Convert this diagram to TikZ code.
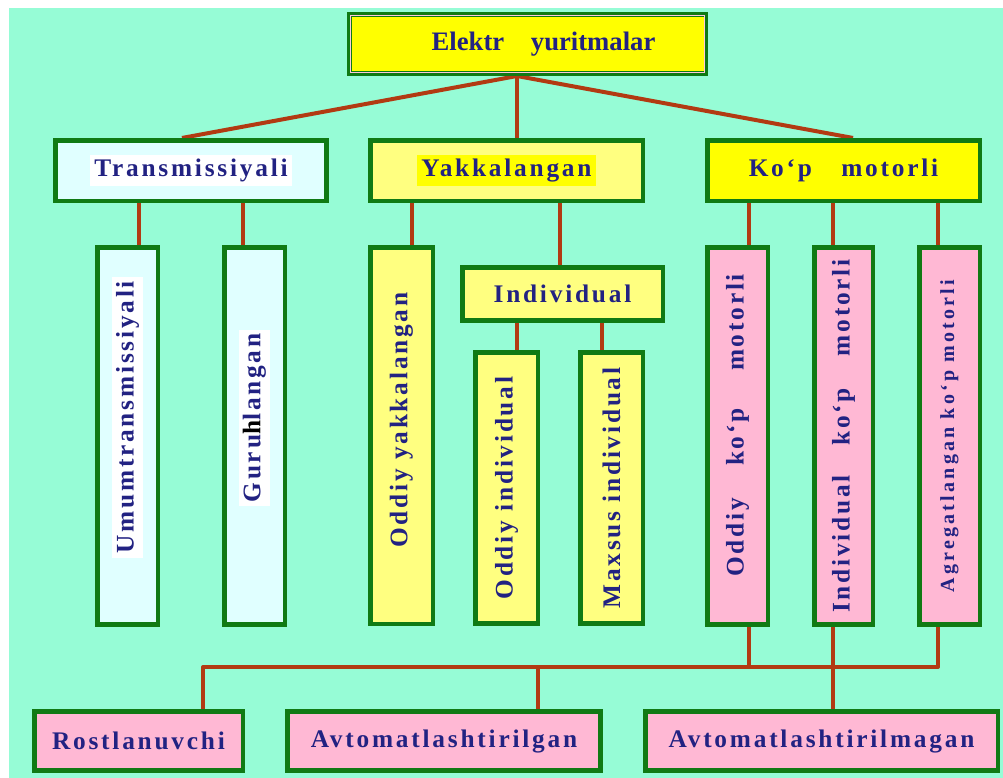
\documentclass[tikz,border=0pt]{standalone}
\usepackage{fontspec}
\usepackage{graphicx}
\setmainfont{Liberation Serif}
\newfontfamily\boxfont[LetterSpace=11]{Liberation Serif}
\newfontfamily\smallboxfont[LetterSpace=16]{Liberation Serif}
\usetikzlibrary{backgrounds}
\definecolor{mint}{RGB}{150,252,214}
\definecolor{boxgreen}{RGB}{16,122,20}
\definecolor{linkred}{RGB}{178,58,18}
\definecolor{yellowA}{RGB}{255,255,0}
\definecolor{yellowB}{RGB}{255,255,128}
\definecolor{cyanA}{RGB}{224,255,255}
\definecolor{pinkA}{RGB}{255,184,212}
\definecolor{pinkline}{RGB}{255,200,220}
\definecolor{txtblue}{RGB}{34,34,130}
\newcommand\uptext[1]{\rotatebox{90}{#1}}
\newcommand\hl[2]{{\setlength{\fboxsep}{3pt}\colorbox{#1}{#2}}}

\begin{document}
\begin{tikzpicture}[x=0.75pt,y=-0.75pt,
  box/.style={draw=boxgreen,line width=3.4pt,inner sep=0pt,text=txtblue,
    font=\boxfont\bfseries\fontsize{19}{22}\selectfont},
  hbox/.style={box,minimum height=45.4pt},
  vbox/.style={box,minimum width=45.4pt,minimum height=283.1pt},
  link/.style={draw=linkred,line width=3pt,line join=round}]
  \useasboundingbox (0,0) rectangle (1003,778);

  \node[box,fill=yellowA,minimum width=267.4pt,minimum height=44.6pt,
    font=\bfseries\fontsize{20}{24}\selectfont] (top) at (527.5,44)
    {\hspace*{24pt}Elektr\quad yuritmalar};
  \draw[pinkline,line width=1pt] ([shift={(2.6pt,-2.6pt)}]top.north west)
    rectangle ([shift={(-2.6pt,2.6pt)}]top.south east);

  \node[hbox,fill=cyanA,minimum width=203.6pt] (trans) at (191,170.5)
    {\hl{white}{Transmissiyali}};
  \node[hbox,fill=yellowB,minimum width=204.4pt] (yak) at (506.5,170.5)
    {\hl{yellowA}{Yakkalangan}};
  \node[hbox,fill=yellowA,minimum width=204.4pt] (kop) at (843.5,170.5)
    {Ko‘p\hspace{22pt}motorli};

  \node[vbox,fill=cyanA] (umum) at (127.5,436)
    {\uptext{\hspace*{28pt}\hl{white}{Umumtransmissiyali}}};
  \node[vbox,fill=cyanA] (guruh) at (254.5,436)
    {\uptext{\hspace*{27pt}\hl{white}{Guru{\color{black}h}langan}}};
  \node[vbox,fill=yellowB,minimum width=46.9pt,minimum height=282.4pt] (oddyak) at (401.5,435.5)
    {\uptext{\hspace*{23pt}Oddiy yakkalangan}};
  \node[box,fill=yellowB,minimum width=150.4pt,minimum height=40.1pt] (indiv) at (562.5,294)
    {Individual};
  \node[box,fill=yellowB,minimum width=46.9pt,minimum height=203.6pt] (oddind) at (506.5,488)
    {\uptext{Oddiy individual}};
  \node[box,fill=yellowB,minimum width=46.9pt,minimum height=203.6pt] (maxsus) at (611.5,488)
    {\uptext{Maxsus individual}};
  \node[vbox,fill=pinkA] (oddkop) at (737.5,436)
    {\uptext{\hspace*{16pt}Oddiy\hspace{24pt}ko‘p\hspace{28pt}motorli}};
  \node[vbox,fill=pinkA,minimum width=43.9pt] (indkop) at (843.5,436)
    {\uptext{Individual\hspace{22pt}ko‘p\hspace{24pt}motorli}};
  \node[vbox,fill=pinkA,font=\smallboxfont\bfseries\fontsize{15}{18}\selectfont] (agreg) at (949.5,436)
    {\uptext{Agregatlangan ko‘p motorli}};

  \node[hbox,fill=pinkA,minimum width=156.4pt,minimum height=44.6pt] (rost) at (138.5,741)
    {Rostlanuvchi};
  \node[hbox,fill=pinkA,minimum width=235.1pt,minimum height=44.6pt] (avtom) at (444,741)
    {Avtomatlashtirilgan};
  \node[hbox,fill=pinkA,minimum width=264.4pt,minimum height=44.6pt] (avtomx) at (821.5,741)
    {Avtomatlashtirilmagan};

  \coordinate (hub) at (517,76);
  \coordinate (busL) at (203,667);
  \coordinate (busR) at (938,667);

  \begin{scope}[on background layer]
    \fill[mint] (9,8) rectangle (1003,778);
    \draw[link] (hub) -- (trans.north -| 182,0);
    \draw[link] (hub) -- (yak.north -| 517,0);
    \draw[link] (hub) -- (kop.north -| 853,0);
    \foreach \xx/\a/\b in {139/trans/umum,243/trans/guruh,412/yak/oddyak,
        560/yak/indiv,517/indiv/oddind,602/indiv/maxsus,
        749/kop/oddkop,833/kop/indkop,938/kop/agreg}
      \draw[link] (\a.south -| \xx,0) -- (\b.north -| \xx,0);
    \draw[link] (rost.north -| busL) -- (busL) -- (busR) -- (agreg.south -| busR);
    \draw[link] (oddkop.south -| 749,0) -- (busL -| 749,0);
    \draw[link] (avtom.north -| 538,0) -- (busL -| 538,0);
    \draw[link] (indkop.south -| 833,0) -- (avtomx.north -| 833,0);
  \end{scope}
\end{tikzpicture}
\end{document}
